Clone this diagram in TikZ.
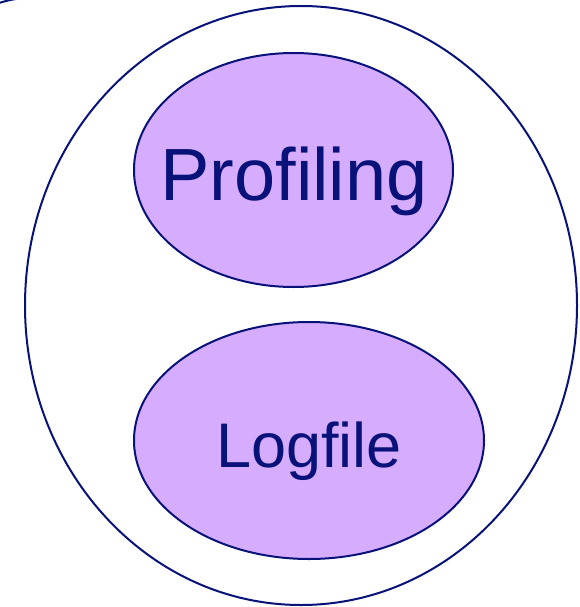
\documentclass[tikz,border=0pt]{standalone}
\usepackage{fontspec}
\setmainfont{Liberation Sans}
\usetikzlibrary{shapes.geometric}
\definecolor{navy}{RGB}{8,18,120}
\definecolor{lilac}{RGB}{214,172,255}
\begin{document}
\begin{tikzpicture}[x=1pt,y=-1pt,
  outline/.style={draw=navy,line width=2pt},
  blob/.style={ellipse,draw=navy,line width=2pt,fill=lilac,inner sep=0pt},
  lbl/.style={text=navy,anchor=base,inner sep=0pt}]
\useasboundingbox (0,0) rectangle (580,607);
\node[ellipse,outline,inner sep=0pt,minimum width=552pt,minimum height=599pt] (outer) at (301,305.5) {};
\node[blob,minimum width=319pt,minimum height=234pt] (prof) at (293.5,170) {};
\node[blob,minimum width=350pt,minimum height=237pt] (log) at (309,440.5) {};
\node[lbl,font=\fontsize{74}{80}\selectfont] (proft) at (294,200) {Profiling};
\node[lbl,font=\fontsize{63}{70}\selectfont] (logt) at (309,467) {Logfile};
\draw[outline] (16,-1) .. controls (9,0) and (4,1.5) .. (-1,3);
\end{tikzpicture}
\end{document}
